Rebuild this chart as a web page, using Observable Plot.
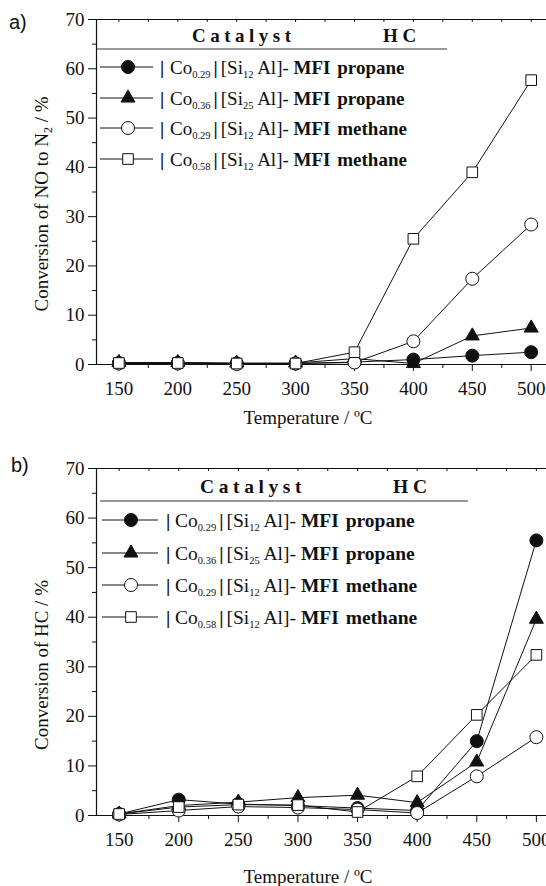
<!DOCTYPE html>
<html>
<head>
<meta charset="utf-8">
<script src="https://cdn.jsdelivr.net/npm/d3@7"></script>
<script src="https://cdn.jsdelivr.net/npm/@observablehq/plot@0.6"></script>
<style>
  html, body { margin: 0; padding: 0; background: #fff; }
  #wrap { position: relative; width: 546px; height: 886px; overflow: hidden; }
  #wrap svg { position: absolute; left: 0; overflow: visible; }
  #wrap svg text, #wrap svg tspan { font-family: "Liberation Serif", "Times New Roman", serif !important; }
  #wrap svg text.sans { font-family: "Liberation Sans", Arial, sans-serif !important; }
</style>
</head>
<body>
<div id="wrap"></div>
<script>
// ---------- data ----------
const temps = [150, 200, 250, 300, 350, 400, 450, 500];

// Panel a: conversion of NO to N2 (%)
const noCo029Propane = [0.3, 0.3, 0.2, 0.2, 0.5, 1.0, 1.8, 2.5];
const noCo036Propane = [0.4, 0.4, 0.3, 0.3, 1.2, 0.2, 5.8, 7.4];
const noCo029Methane = [0.2, 0.2, 0.1, 0.2, 0.4, 4.7, 17.4, 28.4];
const noCo058Methane = [0.3, 0.3, 0.2, 0.2, 2.5, 25.5, 39.0, 57.7];

// Panel b: conversion of HC (%)
const hcCo029Propane = [0.3, 3.2, 2.3, 2.0, 1.5, 1.0, 15.0, 55.5];
const hcCo036Propane = [0.3, 2.0, 2.7, 3.6, 4.1, 2.6, 10.8, 39.6];
const hcCo029Methane = [0.2, 1.0, 1.8, 1.6, 1.2, 0.5, 7.9, 15.8];
const hcCo058Methane = [0.3, 1.7, 2.2, 2.1, 0.7, 7.9, 20.3, 32.4];

// legend / series descriptors
const coSub = ["0.29", "0.36", "0.29", "0.58"];
const siSub = ["12", "25", "12", "12"];
const hcNames = ["propane", "propane", "methane", "methane"];
const symbols = ["circle", "triangle", "circle", "square"];
const fills = ["#111", "#111", "#fff", "#fff"];
const radii = [6.5, 5.2, 6.5, 6];

// ticks
const xMajor = [150, 200, 250, 300, 350, 400, 450, 500];
const xMinor = [175, 225, 275, 325, 375, 425, 475];
const topTicks = [150, 175, 200, 225, 250, 275, 300, 325, 350, 375, 400, 425, 450, 475, 500];
const yMajor = [0, 10, 20, 30, 40, 50, 60, 70];
const yMinor = [5, 15, 25, 35, 45, 55, 65];
const yDomain = [0, 70];
const xDomainA = [131, 513];
const xDomainB = [131, 508.5];

const SERIF = "Liberation Serif";
const SANS = "Liberation Sans";
const INK = "#111";

function makePanel(cfg) {
  const values = cfg.values;
  const marks = [
    Plot.ruleY([yDomain[0]], {stroke: INK, strokeWidth: 1.2}),
    Plot.ruleY([yDomain[1]], {stroke: INK, strokeWidth: 1.2}),
    Plot.ruleX([cfg.xDomain[0]], {stroke: INK, strokeWidth: 1.2}),
    Plot.ruleX(topTicks, {x: d => d, y1: yDomain[1], y2: yDomain[1] - 0.6, stroke: INK}),
    Plot.axisX({ticks: xMajor, tickSize: 7, tickPadding: 10, label: null, fontSize: 19, fontFamily: SERIF, stroke: INK}),
    Plot.axisX({ticks: xMinor, tickSize: 4, tickFormat: () => "", label: null, stroke: INK}),
    Plot.axisY({ticks: yMajor, tickSize: 8, tickPadding: 4, label: null, fontSize: 19, fontFamily: SERIF, stroke: INK}),
    Plot.axisY({ticks: yMinor, tickSize: 4, tickFormat: () => "", label: null, stroke: INK})
  ];
  values.forEach((vals, i) => {
    const pts = temps.map((t, j) => ({t, v: vals[j]}));
    marks.push(Plot.line(pts, {x: "t", y: "v", stroke: INK, strokeWidth: 1}));
    marks.push(Plot.dot(pts, {x: "t", y: "v", symbol: symbols[i], r: radii[i], fill: fills[i], stroke: INK, strokeWidth: 1}));
  });
  const svg = Plot.plot({
    width: 546,
    height: cfg.height,
    marginLeft: 96,
    marginRight: 0,
    marginTop: 19,
    marginBottom: cfg.marginBottom,
    style: {fontSize: "19px", fontFamily: SERIF, color: INK, background: "transparent", overflow: "visible"},
    x: {domain: cfg.xDomain},
    y: {domain: yDomain},
    marks
  });
  svg.style.top = cfg.top + "px";
  svg.setAttribute("font-family", SERIF);
  document.getElementById("wrap").appendChild(svg);

  const s = d3.select(svg);
  // panel letter
  s.append("text").attr("class", "sans").attr("x", cfg.letterX).attr("y", cfg.letterY).attr("text-anchor", "start")
    .attr("font-family", SANS).attr("font-size", 20).attr("fill", INK)
    .text(cfg.letter);
  // y title
  const yt = s.append("text")
    .attr("transform", `translate(${cfg.yTitleX},${cfg.yTitleY}) rotate(-90)`)
    .attr("text-anchor", "middle").attr("font-size", 19).attr("fill", INK);
  cfg.yTitle.forEach(part => {
    const t = yt.append("tspan").text(part.t);
    if (part.sub) t.attr("font-size", 12).attr("dy", 4);
    if (part.after) t.attr("dy", -4);
  });
  // x title
  s.append("text").attr("x", 308).attr("y", cfg.xTitleY)
    .attr("text-anchor", "middle").attr("font-size", 19).attr("fill", INK)
    .text("Temperature / ºC");

  // legend
  const L = cfg.legend;
  const g = s.append("g").attr("fill", INK).attr("font-size", L.fs).attr("text-anchor", "start");
  g.append("text").attr("x", L.catX).attr("y", L.headY).attr("font-weight", "bold")
    .attr("letter-spacing", L.ls + "px").text("Catalyst");
  g.append("text").attr("x", L.hcX).attr("y", L.headY).attr("font-weight", "bold").text("H C");
  g.append("line").attr("x1", L.ruleX1).attr("x2", L.ruleX2).attr("y1", L.ruleY).attr("y2", L.ruleY)
    .attr("stroke", "#777").attr("stroke-width", 1.5);
  const symMap = {circle: d3.symbolCircle, triangle: d3.symbolTriangle, square: d3.symbolSquare};
  L.rows.forEach((y, i) => {
    g.append("line").attr("x1", L.lx1).attr("x2", L.lx2).attr("y1", y).attr("y2", y)
      .attr("stroke", INK).attr("stroke-width", 1);
    g.append("path").attr("transform", `translate(${L.mx},${y})`)
      .attr("d", d3.symbol(symMap[symbols[i]], radii[i] * radii[i] * Math.PI)())
      .attr("fill", fills[i]).attr("stroke", INK).attr("stroke-width", 1);
    const base = y + 6.5;
    const t = g.append("text").attr("x", L.barX - 2).attr("y", base);
    t.append("tspan").attr("font-weight", "bold").text("|");
    t.append("tspan").attr("x", L.textX).text("Co");
    t.append("tspan").attr("font-size", 10.5).attr("dy", 4).text(coSub[i]);
    t.append("tspan").attr("font-weight", "bold").attr("dy", -4).attr("dx", 3).text("|");
    t.append("tspan").attr("dx", 3).text("[Si");
    t.append("tspan").attr("font-size", 10.5).attr("dy", 4).text(siSub[i]);
    t.append("tspan").attr("dy", -4).text(" Al]- ");
    t.append("tspan").attr("font-weight", "bold").text("MFI");
    t.append("tspan").attr("font-weight", "bold").attr("dx", 2).text(" " + hcNames[i]);
  });
}

makePanel({
  values: [noCo029Propane, noCo036Propane, noCo029Methane, noCo058Methane],
  xDomain: xDomainA,
  top: 0, height: 445, marginBottom: 81,
  letter: "a)", letterX: 9, letterY: 29,
  yTitleX: 48, yTitleY: 204,
  yTitle: [{t: "Conversion of NO to N"}, {t: "2", sub: true}, {t: " / %", after: true}],
  xTitleY: 424,
  legend: {fs: 19, catX: 192, hcX: 383, headY: 42, ls: 4.5, ruleX1: 97, ruleX2: 447, ruleY: 49,
           rows: [67, 98, 128, 159], lx1: 100, lx2: 153, mx: 128, barX: 162, textX: 170}
});

makePanel({
  values: [hcCo029Propane, hcCo036Propane, hcCo029Methane, hcCo058Methane],
  xDomain: xDomainB,
  top: 449, height: 437, marginBottom: 71,
  letter: "b)", letterX: 11, letterY: 23,
  yTitleX: 48, yTitleY: 216,
  yTitle: [{t: "Conversion of HC / %"}],
  xTitleY: 434,
  legend: {fs: 19.5, catX: 200, hcX: 393, headY: 44, ls: 4.6, ruleX1: 100, ruleX2: 468, ruleY: 52,
           rows: [71, 104, 136, 168], lx1: 102, lx2: 158, mx: 131, barX: 168, textX: 175}
});
</script>
</body>
</html>
